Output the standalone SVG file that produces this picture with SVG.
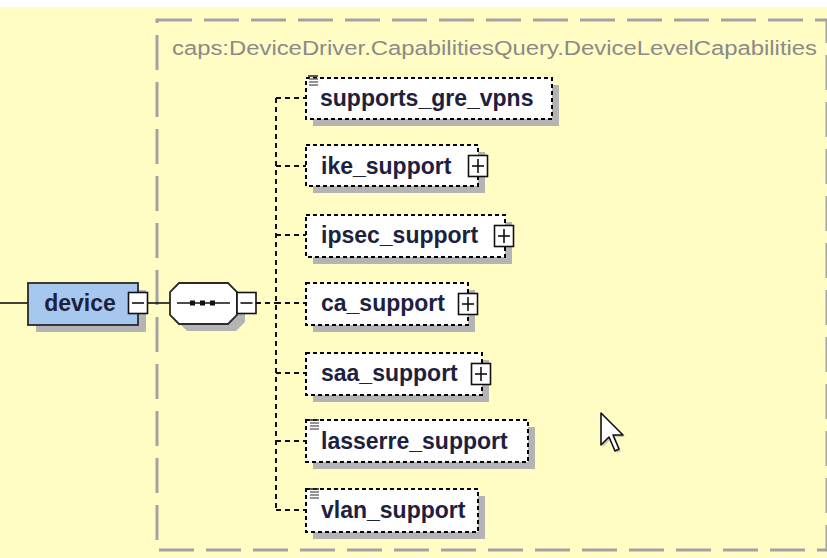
<svg xmlns="http://www.w3.org/2000/svg" width="827" height="558" viewBox="0 0 827 558">
  <style>
    .bg { fill: #fffdc4; }
    .group-frame { fill: none; stroke: #a3a3a3; stroke-width: 3; stroke-dasharray: 35 12; }
    .group-label { font-family: "Liberation Sans", Arial, sans-serif; font-size: 20px; fill: #8a8a8a; }
    .shadow { fill: #b4b4b4; }
    .elem { fill: #ffffff; stroke: #000; stroke-width: 2; stroke-dasharray: 4 3; }
    .root { fill: #a6c7ee; stroke: #2a2a2a; stroke-width: 1.8; }
    .seq { fill: #ffffff; stroke: #2a2a2a; stroke-width: 1.8; }
    .name { font-family: "Liberation Sans", Arial, sans-serif; font-size: 23px; font-weight: bold; fill: #1d2140; }
    .toggle { fill: #ffffff; stroke: #111; stroke-width: 1.6; }
    .sign { stroke: #111; stroke-width: 1.6; fill: none; }
    .solid { stroke: #111; stroke-width: 1.6; fill: none; }
    .dashed { stroke: #111; stroke-width: 2; stroke-dasharray: 5 4; fill: none; }
    .icon-top { stroke: #222; stroke-width: 1.5; }
    .icon-line { stroke: #6f6f6f; stroke-width: 1.5; }
  </style>

  <defs>
    <!-- expand box (+) centred on a point -->
    <g id="plus">
      <rect class="toggle" x="-9.5" y="-10.5" width="19" height="21"/>
      <line class="sign" x1="-6" y1="0" x2="6" y2="0"/>
      <line class="sign" x1="0" y1="-7" x2="0" y2="7"/>
    </g>
    <!-- collapse box (-) centred on a point -->
    <g id="minus">
      <rect class="toggle" x="-9.5" y="-10.5" width="19" height="21"/>
      <line class="sign" x1="-6" y1="0" x2="6" y2="0"/>
    </g>
    <!-- simple-type marker at the top-left of an element -->
    <g id="simple">
      <line class="icon-top" x1="0" y1="0" x2="10" y2="0"/>
      <line class="icon-line" x1="1" y1="3" x2="10" y2="3"/>
      <line class="icon-line" x1="1" y1="6" x2="10" y2="6"/>
      <line class="icon-line" x1="1" y1="9" x2="10" y2="9"/>
    </g>
  </defs>

  <!-- canvas -->
  <rect x="0" y="0" width="827" height="558" fill="#ffffff"/>
  <rect class="bg" x="0" y="7" width="827" height="551"/>

  <!-- complex type frame -->
  <g id="type-frame">
    <rect class="group-frame" x="157" y="20" width="670" height="530"/>
    <text class="group-label" x="172" y="55" textLength="645" lengthAdjust="spacingAndGlyphs">caps:DeviceDriver.CapabilitiesQuery.DeviceLevelCapabilities</text>
  </g>

  <!-- connectors -->
  <g id="connectors">
    <line class="solid" x1="0" y1="303" x2="28" y2="303"/>
    <line class="solid" x1="147" y1="303" x2="171" y2="303"/>
    <line class="dashed" x1="256" y1="303" x2="276" y2="303"/>
    <line class="dashed" x1="276" y1="98" x2="276" y2="510"/>
    <line class="dashed" x1="276" y1="98" x2="306" y2="98"/>
    <line class="dashed" x1="276" y1="166" x2="306" y2="166"/>
    <line class="dashed" x1="276" y1="235" x2="306" y2="235"/>
    <line class="dashed" x1="276" y1="303" x2="306" y2="303"/>
    <line class="dashed" x1="276" y1="373" x2="306" y2="373"/>
    <line class="dashed" x1="276" y1="441" x2="306" y2="441"/>
    <line class="dashed" x1="276" y1="510" x2="306" y2="510"/>
  </g>

  <!-- root element -->
  <g id="device">
    <rect class="shadow" x="36" y="290" width="110" height="42"/>
    <rect class="root" x="28" y="283" width="110" height="42"/>
    <text class="name" x="80" y="311" text-anchor="middle" font-size="22">device</text>
    <use href="#minus" x="138" y="303"/>
  </g>

  <!-- sequence compositor -->
  <g id="sequence">
    <path class="shadow" d="M187,290 H236 L245,299 V322 L236,331 H187 L178,322 V299 Z"/>
    <path class="seq" d="M179,283 H228 L237,292 V315 L228,324 H179 L170,315 V292 Z"/>
    <line class="solid" x1="177" y1="303" x2="230" y2="303"/>
    <rect x="190" y="300.5" width="5" height="5" fill="#111"/>
    <rect x="200" y="300.5" width="5" height="5" fill="#111"/>
    <rect x="210" y="300.5" width="5" height="5" fill="#111"/>
    <use href="#minus" x="246.5" y="303"/>
  </g>

  <!-- child elements -->
  <g id="supports_gre_vpns">
    <rect class="shadow" x="313" y="85" width="246" height="41"/>
    <rect class="elem" x="306" y="78" width="246" height="41"/>
    <use href="#simple" x="308" y="76"/>
    <text class="name" x="320" y="106">supports_gre_vpns</text>
  </g>

  <g id="ike_support">
    <rect class="shadow" x="313" y="152" width="172" height="41"/>
    <rect class="elem" x="306" y="145" width="172" height="41"/>
    <text class="name" x="321" y="174">ike_support</text>
    <use href="#plus" x="478" y="166"/>
  </g>

  <g id="ipsec_support">
    <rect class="shadow" x="313" y="222" width="199" height="42"/>
    <rect class="elem" x="306" y="215" width="199" height="42"/>
    <text class="name" x="321" y="243">ipsec_support</text>
    <use href="#plus" x="504" y="236"/>
  </g>

  <g id="ca_support">
    <rect class="shadow" x="313" y="290" width="162" height="42"/>
    <rect class="elem" x="306" y="283" width="162" height="42"/>
    <text class="name" x="321" y="311">ca_support</text>
    <use href="#plus" x="468" y="304"/>
  </g>

  <g id="saa_support">
    <rect class="shadow" x="313" y="360" width="176" height="42"/>
    <rect class="elem" x="306" y="353" width="176" height="42"/>
    <text class="name" x="321" y="381">saa_support</text>
    <use href="#plus" x="481" y="374"/>
  </g>

  <g id="lasserre_support">
    <rect class="shadow" x="313" y="427" width="222" height="42"/>
    <rect class="elem" x="306" y="420" width="222" height="42"/>
    <use href="#simple" x="309" y="420"/>
    <text class="name" x="321" y="449">lasserre_support</text>
  </g>

  <g id="vlan_support">
    <rect class="shadow" x="313" y="496" width="172" height="43"/>
    <rect class="elem" x="306" y="489" width="172" height="43"/>
    <use href="#simple" x="309" y="489"/>
    <text class="name" x="321" y="518">vlan_support</text>
  </g>

  <!-- mouse pointer -->
  <g id="pointer">
    <path d="M0,0 V16 L4,12 L7,19 L9,18 L6,11 H11 Z" transform="translate(603,415) scale(2)" fill="#9a9a9a" opacity="0.5"/>
    <path d="M0,0 V16 L4,12 L7,19 L9,18 L6,11 H11 Z" transform="translate(601,413) scale(2)" fill="#ffffff" stroke="#111" stroke-width="0.8" stroke-linejoin="round"/>
  </g>
</svg>
